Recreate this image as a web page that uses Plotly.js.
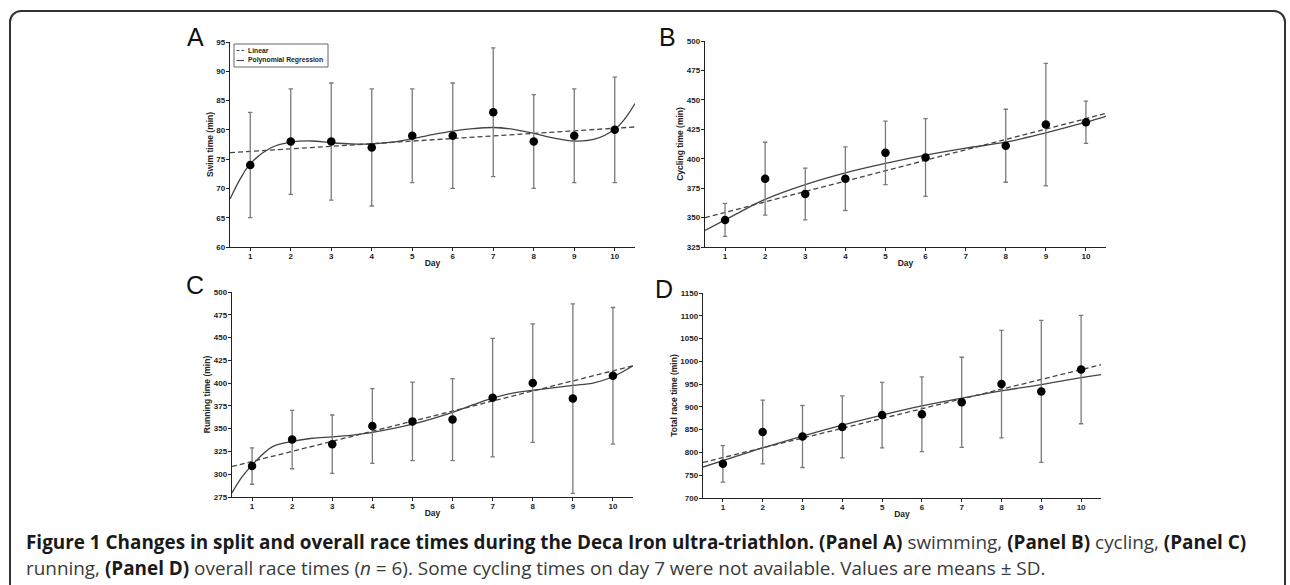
<!DOCTYPE html>
<html>
<head>
<meta charset="utf-8">
<script src="https://cdn.plot.ly/plotly-3.0.1.min.js"></script>
<style>
  html, body { margin: 0; padding: 0; background: #fff; }
  body { width: 1290px; height: 585px; position: relative; overflow: hidden; }
  #frame { position: absolute; left: 9px; top: 10px; width: 1277px; height: 620px;
           border: 2px solid #333; border-radius: 12px; box-sizing: border-box; }
  #chart { position: absolute; left: 0; top: 0; width: 1290px; height: 585px; }
  #caption { position: absolute; left: 26px; top: 529px; width: 1258px;
             font-family: "Open Sans", "Noto Sans", sans-serif; font-size: 18.9px;
             line-height: 26px; color: #3a3a3a; white-space: nowrap; }
  #caption b { color: #1a1a1a; font-weight: 700; }
</style>
</head>
<body>
<div id="frame"></div>
<div id="chart"></div>
<div id="caption">
  <div><b>Figure 1 Changes in split and overall race times during the Deca Iron ultra-triathlon. (Panel A)</b> swimming, <b>(Panel B)</b> cycling, <b>(Panel C)</b></div>
  <div>running, <b>(Panel D)</b> overall race times (<i>n</i> = 6). Some cycling times on day 7 were not available. Values are means ± SD.</div>
</div>
<script>
// ---- Data ----
const days = [1, 2, 3, 4, 5, 6, 7, 8, 9, 10];

// Panel A: swimming
const swimMean = [74, 78, 78, 77, 79, 79, 83, 78, 79, 80];
const swimSD   = [9, 9, 10, 10, 8, 9, 11, 8, 8, 9];
const swimLinX = [0.5, 10.5];
const swimLinY = [76.1, 80.5];
const swimPolyX = [0.5, 0.75, 1, 1.5, 2, 2.5, 3, 3.5, 4, 4.5, 5, 5.5, 6, 6.5, 7, 7.5, 8, 8.5, 9, 9.5, 10, 10.25, 10.5];
const swimPolyY = [68.2, 71.6, 74.2, 76.9, 77.9, 78.1, 77.8, 77.6, 77.6, 77.9, 78.5, 79.2, 79.8, 80.2, 80.4, 80.1, 79.4, 78.6, 78.1, 78.4, 80.1, 81.9, 84.5];

// Panel B: cycling (day 7 not available)
const cycMean = [348, 383, 370, 383, 405, 401, null, 411, 429, 431];
const cycSD   = [14, 31, 22, 27, 27, 33, null, 31, 52, 18];
const cycLinX = [0.5, 10.5];
const cycLinY = [350, 438.5];
const cycPolyX = [0.5, 1, 1.5, 2, 3, 4, 5, 6, 7, 8, 9, 10, 10.5];
const cycPolyY = [339, 348, 357, 365.5, 378, 388, 396, 403, 409, 414, 422, 431, 436];

// Panel C: running
const runMean = [309, 338, 333, 353, 358, 360, 384, 400, 383, 408];
const runSD   = [20, 32, 32, 41, 43, 45, 65, 65, 104, 75];
const runLinX = [0.5, 10.5];
const runLinY = [308.5, 419];
const runPolyX = [0.5, 0.75, 1, 1.5, 2, 2.5, 3, 3.5, 4, 5, 6, 6.5, 7, 7.5, 8, 9, 9.5, 10, 10.5];
const runPolyY = [279.5, 297, 310, 330, 336, 339.5, 341, 343, 346, 355, 368, 376, 383.5, 389, 392, 397.5, 400, 407, 419];

// Panel D: overall race time
const totMean = [775, 845, 835, 856, 882, 884, 910, 950, 934, 982];
const totSD   = [40, 70, 68, 68, 72, 82, 99, 118, 156, 119];
const totLinX = [0.5, 10.5];
const totLinY = [778, 992.5];
const totPolyX = [0.5, 1, 2, 3, 4, 5, 6, 7, 8, 9, 10, 10.5];
const totPolyY = [768, 782, 810, 836, 860, 882, 902, 919, 935, 949, 964, 971];

const yTitles = ['Swim time (min)', 'Cycling time (min)', 'Running time (min)', 'Total race time (min)'];
const panelLetters = ['A', 'B', 'C', 'D'];
const legendLabels = ['Linear', 'Polynomial Regression'];

// ---- Build figure ----
const W = 1290, H = 585;
const px = v => v / W, py = v => 1 - v / H;

const panels = [
  {mean: swimMean, sd: swimSD, lx: swimLinX, ly: swimLinY, qx: swimPolyX, qy: swimPolyY,
   dom: {x: [230, 635], y: [42, 247]}, range: [60, 95], dtick: 5, letter: [195, 37]},
  {mean: cycMean, sd: cycSD, lx: cycLinX, ly: cycLinY, qx: cycPolyX, qy: cycPolyY,
   dom: {x: [705, 1106], y: [41, 247]}, range: [325, 500], dtick: 25, letter: [667, 37]},
  {mean: runMean, sd: runSD, lx: runLinX, ly: runLinY, qx: runPolyX, qy: runPolyY,
   dom: {x: [232, 633], y: [292, 497]}, range: [275, 500], dtick: 25, letter: [195, 285]},
  {mean: totMean, sd: totSD, lx: totLinX, ly: totLinY, qx: totPolyX, qy: totPolyY,
   dom: {x: [703, 1101], y: [293, 498]}, range: [700, 1150], dtick: 50, letter: [664, 289]}
];

const FAM = '"Liberation Sans", Arial, sans-serif';
const tickFont = {family: FAM, size: 8, color: '#222', weight: 'bold'};
const titleFont = {family: FAM, size: 8.5, color: '#222', weight: 'bold'};
const lineCol = '#444';
const dashStyle = '5px,3px';

const traces = [];
const layout = {
  width: W, height: H,
  margin: {l: 0, r: 0, t: 0, b: 0},
  paper_bgcolor: 'rgba(0,0,0,0)', plot_bgcolor: 'rgba(0,0,0,0)',
  showlegend: false,
  annotations: [],
  shapes: [],
  font: {family: FAM}
};

panels.forEach((p, i) => {
  const n = i + 1;
  const xa = n === 1 ? 'x' : 'x' + n, ya = n === 1 ? 'y' : 'y' + n;
  const xk = n === 1 ? 'xaxis' : 'xaxis' + n, yk = n === 1 ? 'yaxis' : 'yaxis' + n;
  traces.push({
    type: 'scatter', mode: 'lines', x: p.lx, y: p.ly, xaxis: xa, yaxis: ya,
    name: legendLabels[0], hoverinfo: 'skip',
    line: {color: lineCol, width: 1.3, dash: dashStyle}
  });
  traces.push({
    type: 'scatter', mode: 'lines', x: p.qx, y: p.qy, xaxis: xa, yaxis: ya,
    name: legendLabels[1], hoverinfo: 'skip',
    line: {color: lineCol, width: 1.3, shape: 'spline', smoothing: 1}
  });
  traces.push({
    type: 'scatter', mode: 'markers', x: days, y: p.mean, xaxis: xa, yaxis: ya,
    marker: {color: '#000', size: 8.5},
    error_y: {type: 'data', array: p.sd, visible: true, color: '#7a7a7a', thickness: 1.3, width: 2.2}
  });
  layout[xk] = {
    domain: [px(p.dom.x[0]), px(p.dom.x[1])], anchor: ya,
    range: [0.5, 10.5], tickvals: days, ticktext: days.map(String),
    ticks: 'outside', ticklen: 3, tickwidth: 1, tickcolor: '#222',
    ticklabelstandoff: -2,
    showline: true, linecolor: '#222', linewidth: 1.3, mirror: false,
    showgrid: false, zeroline: false, tickfont: tickFont,
    title: {text: 'Day', font: titleFont, standoff: 0}
  };
  layout[yk] = {
    domain: [py(p.dom.y[1]), py(p.dom.y[0])], anchor: xa,
    range: p.range, dtick: p.dtick, tick0: p.range[0],
    ticks: 'outside', ticklen: 3, tickwidth: 1, tickcolor: '#222',
    ticklabelstandoff: -1,
    showline: true, linecolor: '#222', linewidth: 1.3,
    showgrid: false, zeroline: false, tickfont: tickFont,
    title: {text: yTitles[i], font: titleFont, standoff: 1}
  };
  layout.annotations.push({
    xref: 'paper', yref: 'paper', x: px(p.letter[0]), y: py(p.letter[1]),
    xanchor: 'center', yanchor: 'middle', showarrow: false,
    text: panelLetters[i],
    font: {family: FAM, size: 25, color: '#111'}
  });
});

// Legend box for panel A (drawn as decorations)
const lg = {x0: 234, x1: 328, y0: 44, y1: 67};
layout.shapes.push({type: 'rect', xref: 'paper', yref: 'paper',
  x0: px(lg.x0), x1: px(lg.x1), y0: py(lg.y1), y1: py(lg.y0),
  line: {color: '#666', width: 1}, fillcolor: '#fff'});
layout.shapes.push({type: 'line', xref: 'paper', yref: 'paper',
  x0: px(236.5), x1: px(244), y0: py(50.5), y1: py(50.5),
  line: {color: lineCol, width: 1.1, dash: '3px,2px'}});
layout.shapes.push({type: 'line', xref: 'paper', yref: 'paper',
  x0: px(236.5), x1: px(244), y0: py(60.5), y1: py(60.5),
  line: {color: lineCol, width: 1.1}});
[50.5, 60.5].forEach((yy, k) => {
  layout.annotations.push({xref: 'paper', yref: 'paper', x: px(246), y: py(yy),
    xanchor: 'left', yanchor: 'middle', showarrow: false, text: legendLabels[k],
    font: {family: FAM, size: 6.8, color: '#222', weight: 'bold'}});
});

Plotly.newPlot('chart', traces, layout, {displayModeBar: false, staticPlot: true});
</script>
</body>
</html>
